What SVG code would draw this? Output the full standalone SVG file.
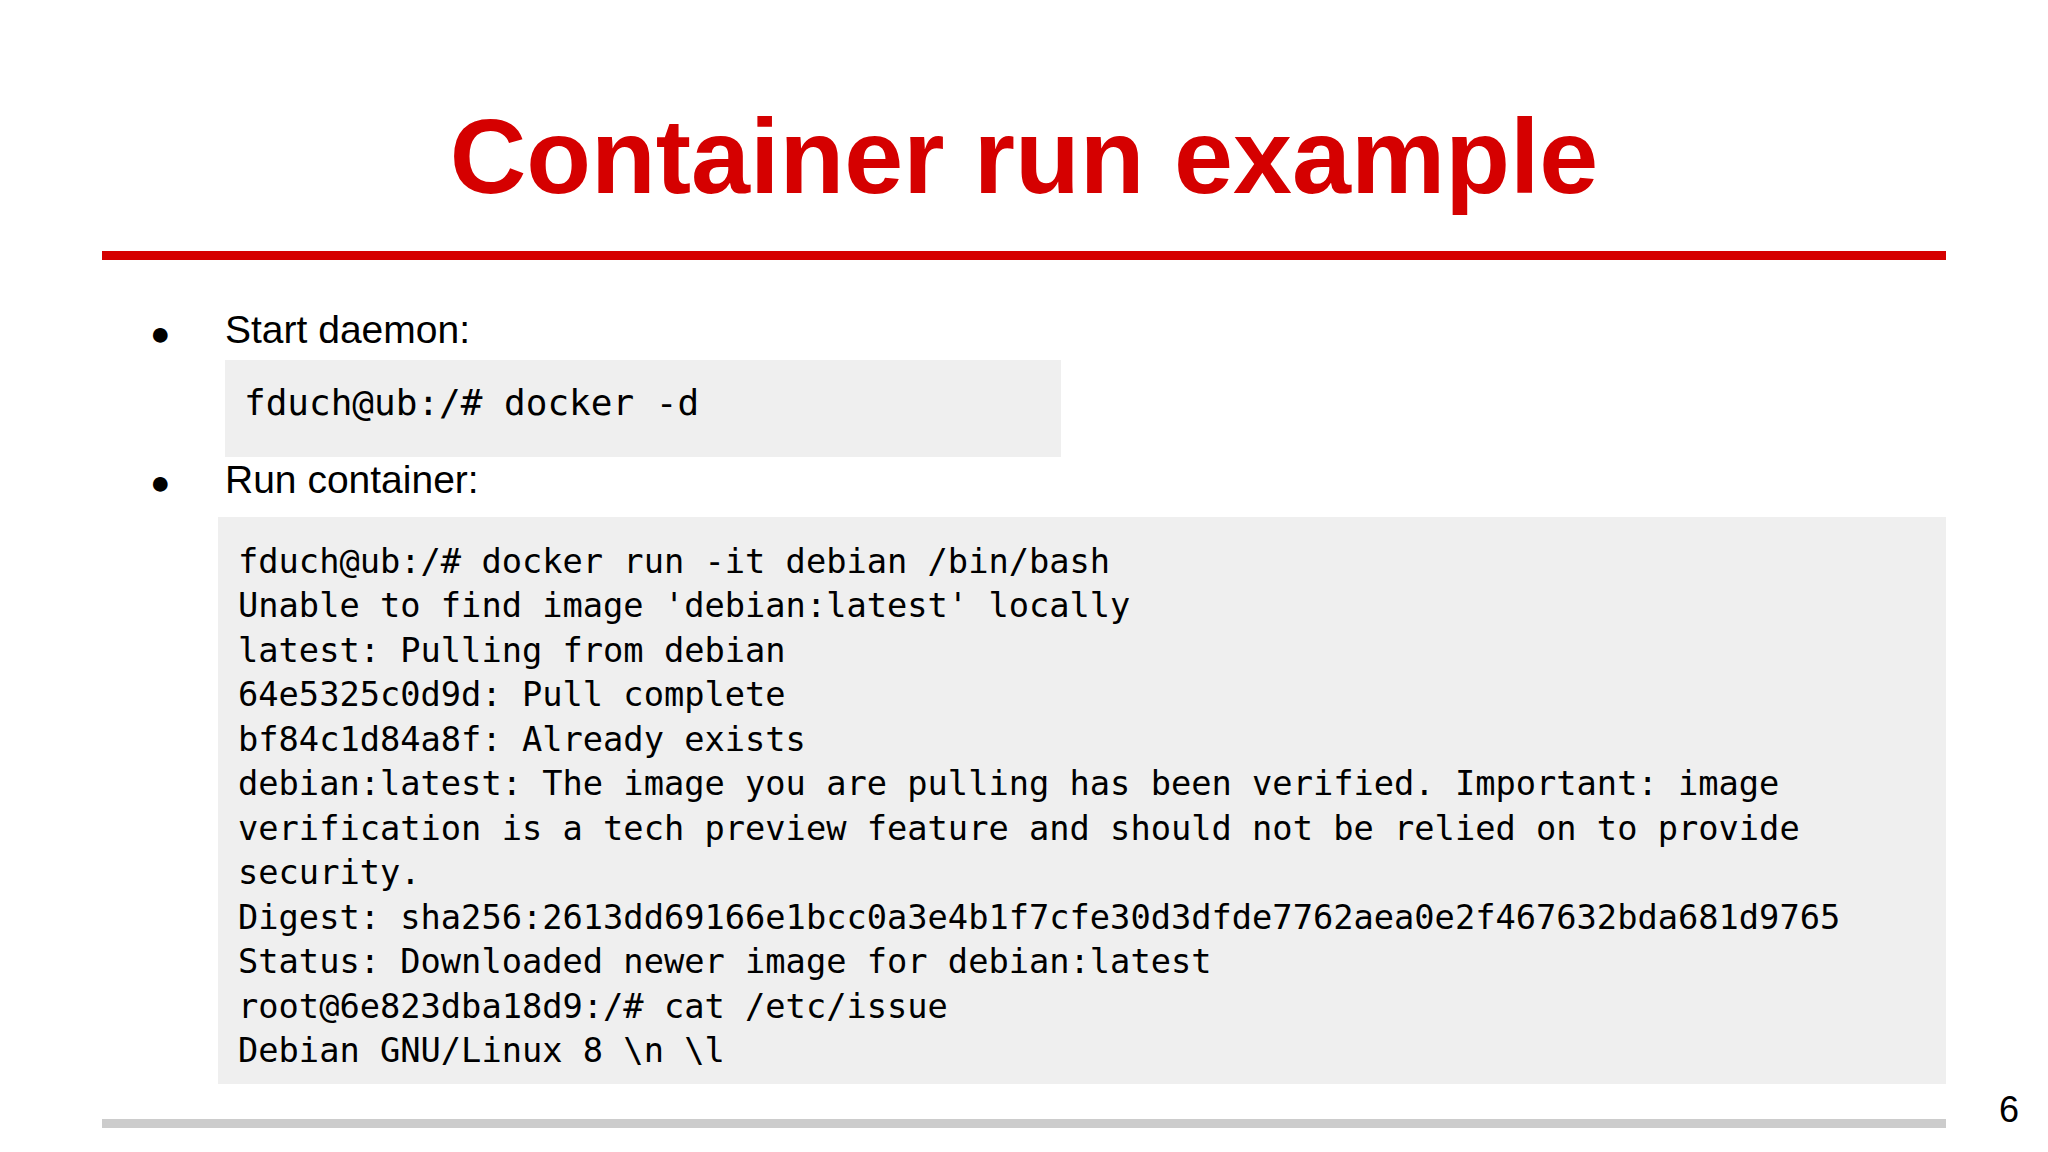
<svg xmlns="http://www.w3.org/2000/svg" width="2048" height="1152" viewBox="0 0 2048 1152">
<style>
.t{font-family:"Liberation Sans",Arial,sans-serif;fill:#000}
.m{font-family:"DejaVu Sans Mono","Liberation Mono",monospace;fill:#000;white-space:pre}
</style>
<rect width="2048" height="1152" fill="#fff"/>
<text x="1024" y="193" text-anchor="middle" font-family="Liberation Sans,Arial,sans-serif" font-weight="bold" font-size="106" fill="#d50000">Container run example</text>
<rect x="102" y="251" width="1844" height="9" fill="#d50000"/>
<text class="t" x="150" y="345" font-size="34">●</text>
<text class="t" x="225" y="343" font-size="39">Start daemon:</text>
<rect x="225" y="360" width="836" height="97" fill="#efefef"/>
<text class="m" x="244" y="415" font-size="36">fduch@ub:/# docker -d</text>
<text class="t" x="150" y="494" font-size="34">●</text>
<text class="t" x="225" y="493" font-size="39">Run container:</text>
<rect x="218" y="517" width="1728" height="567" fill="#efefef"/>
<g class="m" font-size="33.7">
<text x="238" y="573">fduch@ub:/# docker run -it debian /bin/bash</text>
<text x="238" y="617">Unable to find image 'debian:latest' locally</text>
<text x="238" y="662">latest: Pulling from debian</text>
<text x="238" y="706">64e5325c0d9d: Pull complete</text>
<text x="238" y="751">bf84c1d84a8f: Already exists</text>
<text x="238" y="795">debian:latest: The image you are pulling has been verified. Important: image</text>
<text x="238" y="840">verification is a tech preview feature and should not be relied on to provide</text>
<text x="238" y="884">security.</text>
<text x="238" y="929">Digest: sha256:2613dd69166e1bcc0a3e4b1f7cfe30d3dfde7762aea0e2f467632bda681d9765</text>
<text x="238" y="973">Status: Downloaded newer image for debian:latest</text>
<text x="238" y="1018">root@6e823dba18d9:/# cat /etc/issue</text>
<text x="238" y="1062">Debian GNU/Linux 8 \n \l</text>
</g>
<rect x="102" y="1119" width="1844" height="9" fill="#cccccc"/>
<text class="t" x="2009" y="1122" font-size="36" text-anchor="middle">6</text>
</svg>
